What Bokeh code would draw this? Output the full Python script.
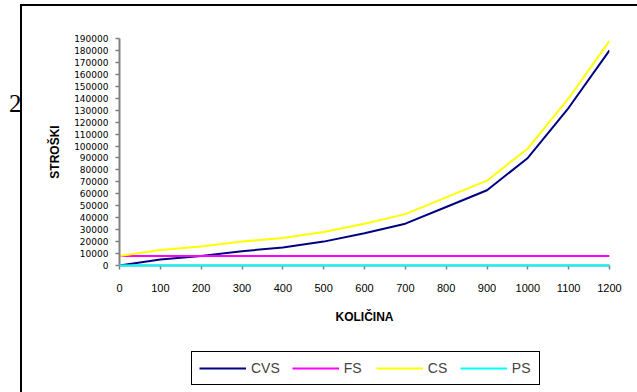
from bokeh.plotting import figure
from bokeh.layouts import column
from bokeh.models import (Range1d, FixedTicker, Legend, LegendItem, Label, InlineStyleSheet)
from bokeh.embed import file_html
from bokeh.resources import INLINE

# ---- data ----
kolicina = [0, 100, 200, 300, 400, 500, 600, 700, 800, 900, 1000, 1100, 1200]
cvs = [0, 5000, 8000, 12000, 15000, 20000, 27000, 35000, 49000, 63000, 90000, 132000, 180000]
fs = [8000, 8000, 8000, 8000, 8000, 8000, 8000, 8000, 8000, 8000, 8000, 8000, 8000]
cs = [8000, 13000, 16000, 20000, 23000, 28000, 35000, 43000, 57000, 71000, 98000, 140000, 188000]
ps = [0, 0, 0, 0, 0, 0, 0, 0, 0, 0, 0, 0, 0]
series_names = ["CVS", "FS", "CS", "PS"]
series_colors = ["#000080", "#FF00FF", "#FFFF00", "#00FFFF"]
x_ticks = [0, 100, 200, 300, 400, 500, 600, 700, 800, 900, 1000, 1100, 1200]
y_ticks = [0, 10000, 20000, 30000, 40000, 50000, 60000, 70000, 80000, 90000, 100000,
           110000, 120000, 130000, 140000, 150000, 160000, 170000, 180000, 190000]
x_title = "KOLIČINA"
y_title = "STROŠKI"
side_text = "2"

frame_css = InlineStyleSheet(css="""
:host { position: relative; }
:host::after {
  content: "";
  position: absolute;
  left: 20px; top: 4px; right: -10px; bottom: -10px;
  border-left: 2px solid #000;
  border-top: 2px solid #000;
  pointer-events: none;
  z-index: 10;
}
""")

# ---- main chart ----
p = figure(width=637, height=330, output_backend="svg", toolbar_location=None,
           x_range=Range1d(0, 1200), y_range=Range1d(0, 190000),
           min_border_left=119, min_border_right=28, min_border_top=38, min_border_bottom=65)
p.background_fill_color = "white"
p.border_fill_color = "white"
p.outline_line_color = None
p.xgrid.visible = False
p.ygrid.visible = False

main_renderers = []
for ys, col in zip([cvs, fs, cs, ps], series_colors):
    main_renderers.append(p.line(kolicina, ys, line_color=col, line_width=2))
main_renderers[3].level = "overlay"

axis_color = "#808080"
for ax in (p.xaxis[0], p.yaxis[0]):
    ax.axis_line_color = axis_color
    ax.axis_line_width = 2
    ax.major_tick_line_color = axis_color
    ax.major_tick_line_width = 1.5
    ax.major_tick_out = 4
    ax.major_tick_in = 0
    ax.minor_tick_line_color = None
    ax.major_label_text_color = "#000000"
    ax.axis_label_text_font_style = "bold"
    ax.axis_label_text_font = "Liberation Sans"
    ax.axis_label_text_font_size = "12px"
    ax.axis_label_text_color = "#000000"

p.xaxis.ticker = FixedTicker(ticks=x_ticks)
p.yaxis.ticker = FixedTicker(ticks=y_ticks)
p.xaxis.major_label_overrides = {t: str(t) for t in x_ticks}
p.yaxis.major_label_overrides = {t: str(t) for t in y_ticks}
p.xaxis.major_label_text_font = "Liberation Sans"
p.xaxis.major_label_text_font_size = "11px"
p.yaxis.major_label_text_font = "DejaVu Sans"
p.yaxis.major_label_text_font_size = "9px"
p.xaxis.major_label_standoff = 14
p.yaxis.major_label_standoff = 7
p.xaxis.axis_label = x_title
p.yaxis.axis_label = y_title
p.xaxis.axis_label_standoff = 15
p.yaxis.axis_label_standoff = 9

lbl = Label(x=21, y=103, x_units="canvas", y_units="canvas", text=side_text,
            text_font="Liberation Serif", text_font_size="25px", text_align="right",
            text_baseline="alphabetic", text_color="black")
p.add_layout(lbl, "left")

# ---- legend strip (its frame is aligned with the main chart's frame by the column) ----
lf = figure(width=637, height=62, output_backend="svg", toolbar_location=None,
            x_range=Range1d(0, 1200), y_range=Range1d(-2, -1),
            x_axis_type=None, y_axis_type=None, min_border=0)
lf.outline_line_color = None
lf.xgrid.visible = False
lf.ygrid.visible = False
lf.background_fill_color = "white"
lf.border_fill_color = "white"
legend_renderers = [lf.line(kolicina, ys, line_color=col, line_width=2)
                    for ys, col in zip([cvs, fs, cs, ps], series_colors)]

legend = Legend(items=[LegendItem(label=n, renderers=[r]) for n, r in zip(series_names, legend_renderers)],
                orientation="horizontal", location=(72, 7),
                border_line_color="black", border_line_width=1, border_line_alpha=1,
                background_fill_color="white", background_fill_alpha=1,
                label_text_font="Liberation Sans", label_text_font_size="14px",
                glyph_width=47, glyph_height=18, label_standoff=5, spacing=12,
                padding=7, margin=0)
lf.add_layout(legend)

layout = column(p, lf, spacing=0, stylesheets=[frame_css])

open("out.html", "w").write(file_html(layout, INLINE))
